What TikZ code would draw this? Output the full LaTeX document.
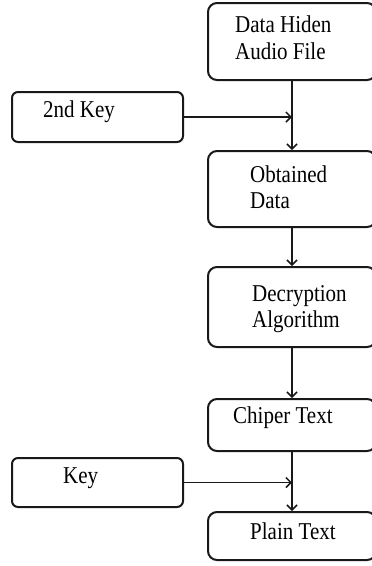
\documentclass[tikz,border=0pt]{standalone}
\usepackage{fontspec}
\setmainfont{Liberation Serif}
\usetikzlibrary{arrows.meta}
\begin{document}
\begin{tikzpicture}[x=1pt,y=-1pt,
  boxstyle/.style={draw=black!90,line width=2pt,rounded corners=9pt,inner sep=0pt,minimum width=168pt},
  keystyle/.style={draw=black!90,line width=2pt,rounded corners=6pt,inner sep=0pt,minimum width=171pt},
  lbl/.style={anchor=base west,inner sep=0pt,font=\fontsize{21}{25}\selectfont,yscale=1.15},
  conn/.style={draw=black!90,line width=1.6pt,-{Straight Barb[length=5pt,width=10pt,line width=1.5pt]}}
]
\useasboundingbox (0,0) rectangle (372,566);
\clip (0,0) rectangle (372,566);
% boxes
\node[boxstyle,minimum height=77pt] (hid) at (292,41.5) {};
\node[boxstyle,minimum height=76pt] (obt) at (292,189) {};
\node[boxstyle,minimum height=80pt] (dec) at (292,307) {};
\node[boxstyle,minimum height=52pt] (chi) at (292,425) {};
\node[boxstyle,minimum height=48pt] (pla) at (292,536) {};
\node[keystyle,minimum height=50pt] (key2) at (97.5,117) {};
\node[keystyle,minimum height=49pt] (key) at (97.5,482.5) {};
% labels
\node[lbl] (t1a) at (235,32) {Data Hiden};
\node[lbl] (t1b) at (235,59) {Audio File};
\node[lbl] (t2) at (43,117) {2nd Key};
\node[lbl] (t3a) at (250,182) {Obtained};
\node[lbl] (t3b) at (250,208) {Data};
\node[lbl] (t4a) at (252,301) {Decryption};
\node[lbl] (t4b) at (252,327) {Algorithm};
\node[lbl] (t5) at (233,423) {Chiper Text};
\node[lbl] (t6) at (63,483) {Key};
\node[lbl] (t7) at (250,539) {Plain Text};
% junctions
\coordinate (j1) at (hid.south |- key2.east);
\coordinate (j2) at (chi.south |- key.east);
% connectors
\draw[conn] (hid.south) -- (obt.north);
\draw[conn] (key2.east) -- (j1);
\draw[conn] (obt.south) -- (dec.north);
\draw[conn] (dec.south) -- (chi.north);
\draw[conn] (chi.south) -- (pla.north);
\draw[conn] (key.east) -- (j2);
\end{tikzpicture}
\end{document}
